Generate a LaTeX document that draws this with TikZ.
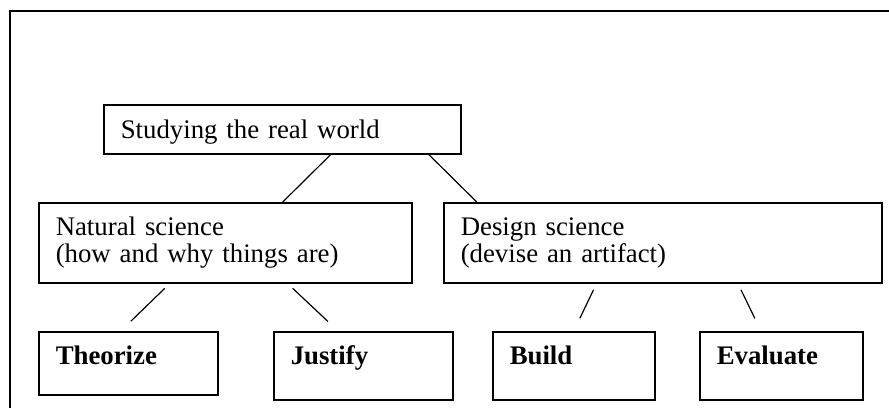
\documentclass[tikz,border=0pt]{standalone}
\usepackage{fontspec}
\setmainfont{Liberation Serif}
\usepackage{tikz}
\tikzset{
  sbox/.style = {rectangle, draw=black, line width=1.5pt, align=left,
    anchor=north west, inner xsep=17pt, inner ysep=0pt,
    font=\fontsize{26.8pt}{27pt}\selectfont},
  sbox_w/.style = {sbox, text width=323pt, text height=34pt,
    text depth=15pt},% the real world
  sbox_s/.style = {sbox, text height=33pt, text depth=47pt},% kind of science
  sbox_a/.style = {sbox, font=\fontsize{26.8pt}{27pt}\selectfont\bfseries,
    text height=33pt, text depth=35pt},% activity
  link/.style = {line width=1.2pt},
  gap/.style = {link, shorten <=7pt, shorten >=14pt}% lines not touching
}

\begin{document}
\begin{tikzpicture}[x=1pt,y=-1pt]
    \useasboundingbox (0,0) rectangle (889,408);
    \draw [line width=2pt] (9.5,408) -- (9.5,10.5) -- (889,10.5);

    \node [sbox_w] (world) at (103,104) {Studying the real world};
    \node [sbox_s, text width=339pt] (natural) at (38,202)
        {Natural science\\(how and why things are)};
    \node [sbox_s, text width=404pt] (design) at (443,202)
        {Design science\\(devise an artifact)};
    \node [sbox_a, text width=145pt, text depth=30pt] (theorize) at (38,331) {Theorize};
    \node [sbox_a, text width=145pt] (justify) at (273,331) {Justify};
    \node [sbox_a, text width=128pt] (build) at (492,331) {Build};
    \node [sbox_a, text width=129pt] (evaluate) at (699,331) {Evaluate};

    \draw [link] ([xshift=48.5pt]world.south) -- ([xshift=57.5pt]natural.north);
    \draw [link] ([xshift=146.5pt]world.south) -- ([xshift=-186pt]design.north);
    \draw [gap] ([xshift=-55.5pt]natural.south) -- ([xshift=-7.5pt]theorize.north);
    \draw [gap] ([xshift=62.3pt]natural.south) -- ([xshift=-25.2pt]justify.north);
    \draw [gap] ([xshift=-66.2pt]design.south) -- (build.north);
    \draw [gap] ([xshift=75.2pt]design.south) -- ([xshift=-20.3pt]evaluate.north);
\end{tikzpicture}
\end{document}
